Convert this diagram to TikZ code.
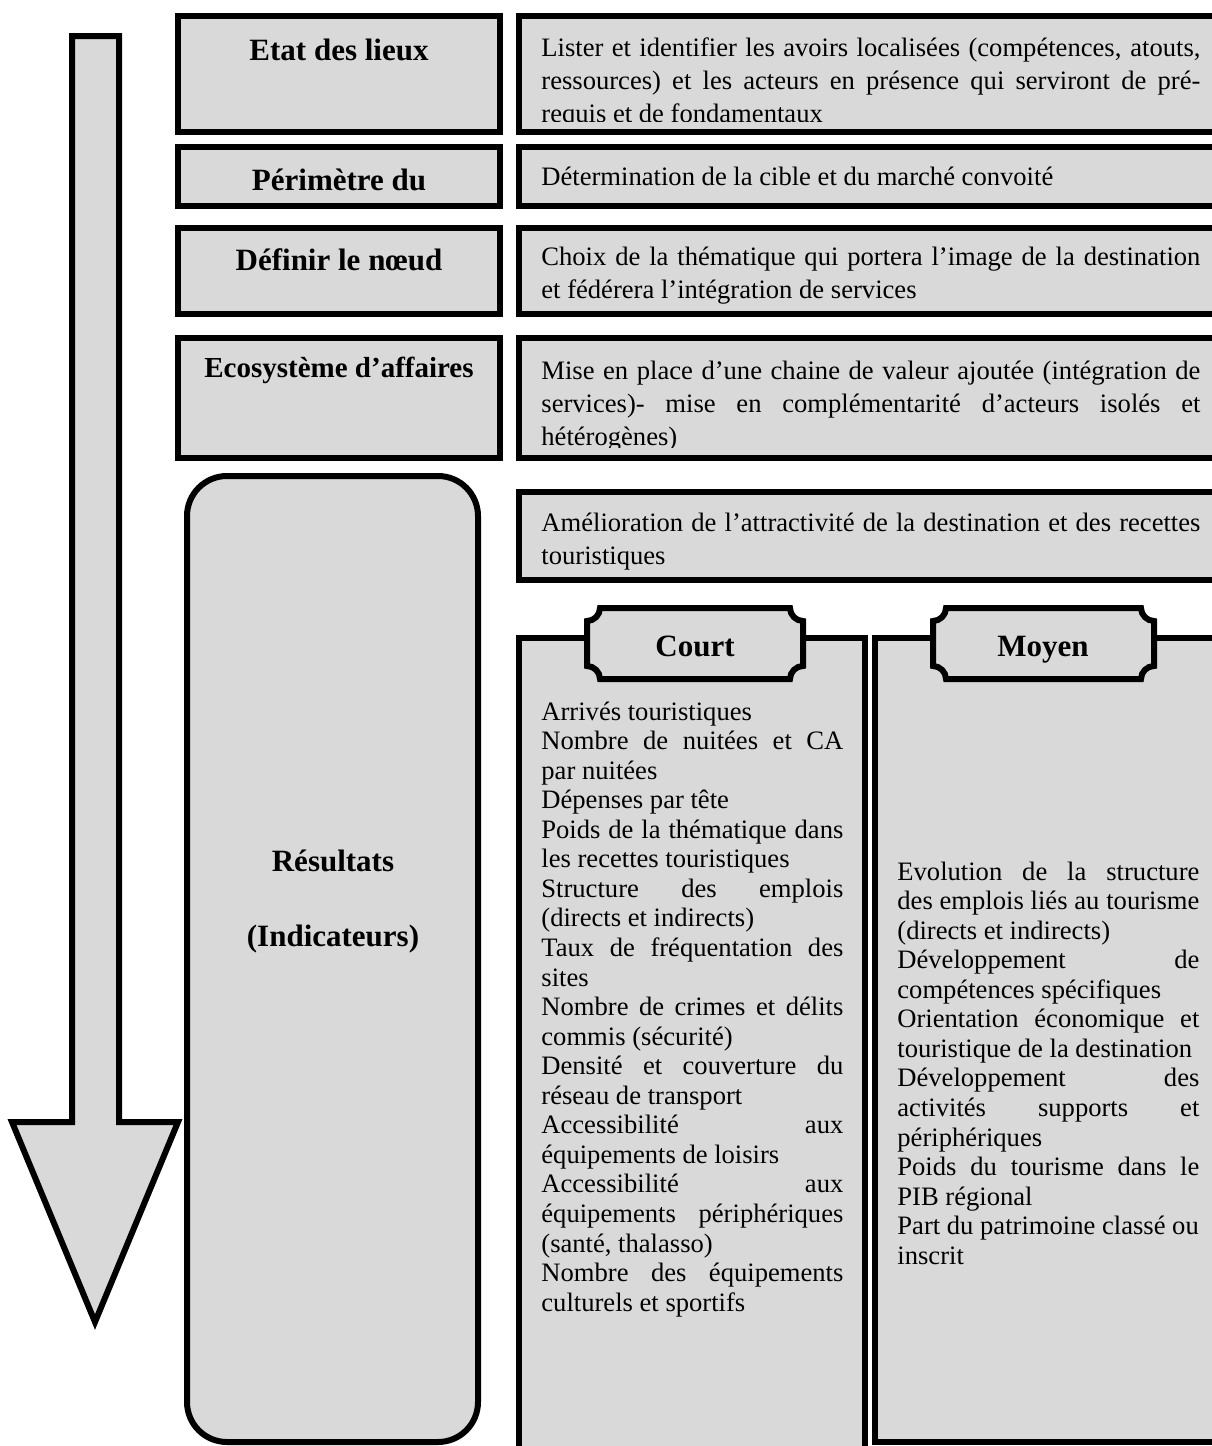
\documentclass[tikz,border=0pt]{standalone}
\usepackage{fontspec}
\setmainfont{Liberation Serif}
\usepackage{tikz}
\usetikzlibrary{positioning}
\definecolor{fondgris}{RGB}{217,217,217}

\newcommand{\jst}[1]{\leavevmode\hbox to\hsize{\spaceskip0pt\xspaceskip0pt\relax #1}}
\newcommand{\plaque}[4]{%
	\draw[cadre] ({#1+13},#2) -- ({#3-13},#2)
		.. controls ({#3-13},{#2+7}) and ({#3-7},{#2+13}) .. (#3,{#2+13})
		-- (#3,{#4-13})
		.. controls ({#3-7},{#4-13}) and ({#3-13},{#4-7}) .. ({#3-13},#4)
		-- ({#1+13},#4)
		.. controls ({#1+13},{#4-7}) and ({#1+7},{#4-13}) .. (#1,{#4-13})
		-- (#1,{#2+13})
		.. controls ({#1+7},{#2+13}) and ({#1+13},{#2+7}) .. ({#1+13},#2) -- cycle;}

\begin{document}
\begin{tikzpicture}[x=0.5pt,y=-0.5pt,
	cadre/.style={draw=black,line width=3pt,fill=fondgris},
	titre/.style={font=\fontsize{15.5}{18}\selectfont\bfseries,align=center,inner sep=0pt},
	texte/.style={font=\fontsize{13.3}{16.5}\selectfont,anchor=base west,text width=329.5pt,inner sep=0pt,align=justify,
		execute at begin node=\spaceskip0pt\xspaceskip0pt\parindent0pt\relax},
	liste/.style={texte,font=\fontsize{13.3}{14.78}\selectfont,text width=151pt}]
	\useasboundingbox (0,0) rectangle (1211,1446);

	\draw[cadre] (72,36) -- (119,36) -- (119,1122) -- (178,1122) -- (95,1322) -- (12,1122) -- (72,1122) -- cycle;

	\draw[cadre] (178,16) rectangle (500,132);
	\draw[cadre] (178,147) rectangle (500,206);
	\draw[cadre] (178,228) rectangle (500,314);
	\draw[cadre] (178,338) rectangle (500,458);
	\draw[cadre,rounded corners=20pt] (187,476) rectangle (478,1442);

	\draw[cadre] (519,16) rectangle (1230,132);
	\draw[cadre] (519,147) rectangle (1230,206);
	\draw[cadre] (519,228) rectangle (1230,314);
	\draw[cadre] (519,338) rectangle (1230,458);
	\draw[cadre] (519,492) rectangle (1230,580);

	\draw[cadre] (519,638) rectangle (865,1465);
	\draw[cadre] (875,638) rectangle (1230,1442);
	\plaque{587}{608}{803}{679}
	\plaque{933}{608}{1154}{679}

	\node[titre] (etat) at (339,50) {Etat des lieux};
	\node[titre] (perimetre) at (339,180) {Périmètre du};
	\node[titre] (noeud) at (339,260) {Définir le nœud};
	\node[titre,font=\fontsize{14.5}{17}\selectfont\bfseries] (ecosysteme) at (339,370) {Ecosystème d’affaires};
	\node[titre,font=\fontsize{15.5}{37.5}\selectfont\bfseries] (resultats) at (333,902) {Résultats\\(Indicateurs)};
	\node[titre,anchor=base] (court) at (695,656) {Court};
	\node[titre,anchor=base] (moyen) at (1043,656) {Moyen};

	\begin{scope}
		\clip (522,19) rectangle (1227,121);
		\node[texte] (etatdesc) at (541,56) {\jst{Lister et identifier les avoirs localisées (compétences, atouts,}\\\jst{ressources) et les acteurs en présence qui serviront de pré-}\\requis et de fondamentaux};
	\end{scope}
	\node[texte] (perimetredesc) at (541,185) {Détermination de la cible et du marché convoité};
	\begin{scope}
		\clip (522,231) rectangle (1227,303);
		\node[texte] (noeuddesc) at (541,265) {\jst{Choix de la thématique qui portera l’image de la destination}\\et fédérera l’intégration de services};
	\end{scope}
	\begin{scope}
		\clip (522,341) rectangle (1227,447);
		\node[texte] (ecosystemedesc) at (541,379) {\jst{Mise en place d’une chaine de valeur ajoutée (intégration de}\\\jst{services)- mise en complémentarité d’acteurs isolés et}\\hétérogènes)};
	\end{scope}
	\node[texte] (attractivite) at (541,531) {\jst{Amélioration de l’attractivité de la destination et des recettes}\\touristiques};

	\node[liste] (courtliste) at (541,720) {Arrivés touristiques\\\jst{Nombre de nuitées et CA}\\par nuitées\\Dépenses par tête\\\jst{Poids de la thématique dans}\\les recettes touristiques\\\jst{Structure des emplois}\\(directs et indirects)\\\jst{Taux de fréquentation des}\\sites\\\jst{Nombre de crimes et délits}\\commis (sécurité)\\\jst{Densité et couverture du}\\réseau de transport\\\jst{Accessibilité aux}\\équipements de loisirs\\\jst{Accessibilité aux}\\\jst{équipements périphériques}\\(santé, thalasso)\\\jst{Nombre des équipements}\\culturels et sportifs};
	\node[liste] (moyenliste) at (897,880) {\jst{Evolution de la structure}\\\jst{des emplois liés au tourisme}\\(directs et indirects)\\\jst{Développement de}\\compétences spécifiques\\\jst{Orientation économique et}\\touristique de la destination\\\jst{Développement des}\\\jst{activités supports et}\\périphériques\\\jst{Poids du tourisme dans le}\\PIB régional\\Part du patrimoine classé ou\\inscrit};
\end{tikzpicture}
\end{document}
